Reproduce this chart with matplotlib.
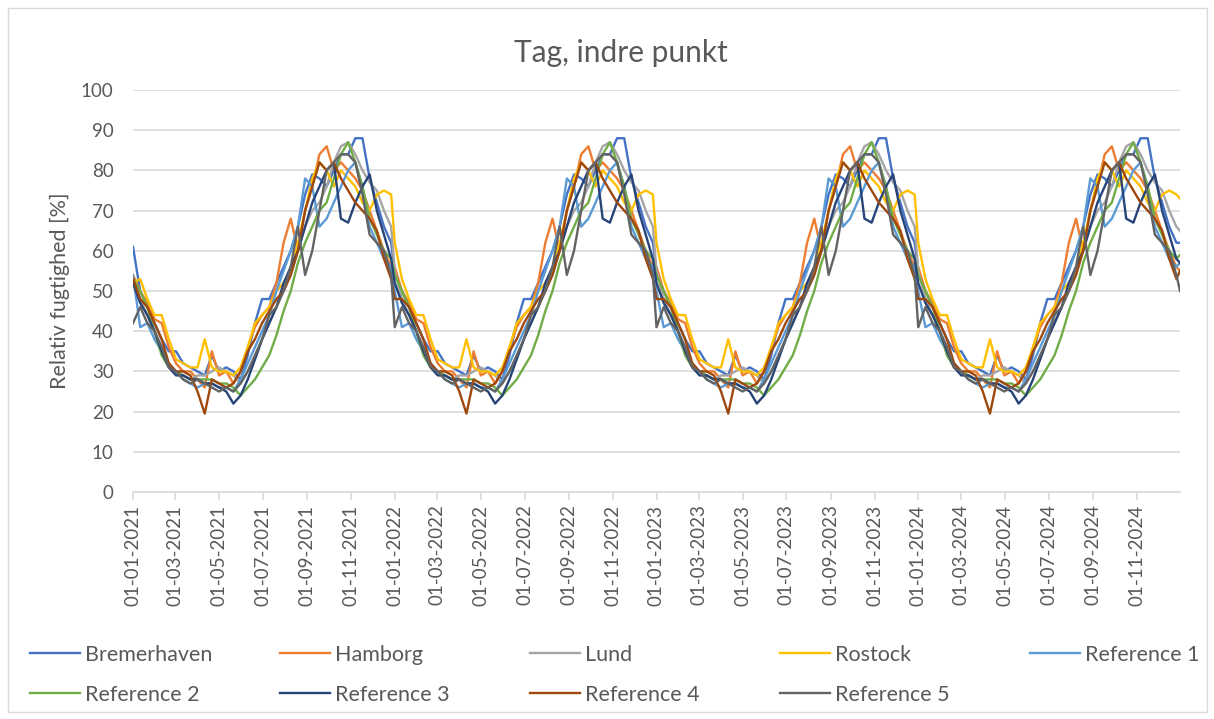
import datetime as dt

import numpy as np
import matplotlib
matplotlib.use('Agg')
import matplotlib.pyplot as plt
import matplotlib.dates as mdates
from matplotlib.lines import Line2D
from matplotlib.patches import Rectangle


# one simulated year, sampled every 10 days (day of year 0..360); it repeats for each year
sample_days = list(range(0, 361, 10))
years = [2021, 2022, 2023, 2024]

series_names = ['Bremerhaven', 'Hamborg', 'Lund', 'Rostock', 'Reference 1',
                'Reference 2', 'Reference 3', 'Reference 4', 'Reference 5']
series_colors = ['#4472C4', '#ED7D31', '#A5A5A5', '#FFC000', '#5B9BD5',
                 '#70AD47', '#264478', '#9E480E', '#636363']

bremerhaven = [55, 50, 46, 42, 38, 35, 35, 32, 31, 30, 29, 34, 30, 31, 30, 28, 34, 42, 48,
               48, 52, 56, 60, 66, 74, 79, 78, 76, 80, 84, 84, 88, 88, 78, 72, 66, 62]
hamborg = [56, 50, 47, 43, 42, 36, 32, 30, 30, 28, 26, 35, 29, 30, 27, 30, 36, 41, 44,
           46, 52, 62, 68, 60, 70, 76, 84, 86, 80, 82, 80, 78, 75, 70, 65, 60, 56]
lund = [55, 48, 44, 40, 36, 31, 30, 29, 28, 29, 29, 30, 31, 30, 29, 27, 30, 33, 38,
        42, 46, 50, 54, 60, 66, 70, 72, 76, 82, 86, 87, 84, 80, 77, 75, 70, 66]
rostock = [62, 53, 48, 44, 44, 38, 33, 32, 31, 31, 38, 31, 30, 30, 29, 31, 36, 42, 44,
           46, 50, 52, 55, 62, 70, 78, 82, 80, 76, 80, 78, 76, 72, 70, 74, 75, 74]
reference_1 = [50, 41, 42, 38, 35, 32, 30, 28, 27, 26, 27, 27, 26, 26, 25, 28, 32, 36, 40,
               44, 50, 55, 60, 66, 78, 76, 66, 68, 72, 76, 80, 82, 76, 66, 62, 58, 56]
reference_2 = [54, 50, 46, 40, 34, 31, 30, 29, 28, 28, 28, 28, 27, 27, 26, 24, 26, 28, 31,
               34, 39, 45, 50, 57, 62, 66, 70, 72, 78, 84, 87, 82, 76, 68, 64, 60, 58]
reference_3 = [52, 47, 44, 40, 35, 31, 29, 29, 28, 28, 27, 27, 26, 25, 22, 24, 28, 33, 38,
               42, 46, 52, 56, 60, 66, 72, 76, 80, 82, 68, 67, 72, 76, 79, 70, 64, 58]
reference_4 = [48, 48, 46, 42, 38, 32, 30, 30, 29, 25, 19.5, 28, 27, 26, 27, 30, 35, 38, 42,
               45, 48, 50, 54, 60, 70, 76, 82, 80, 82, 78, 75, 72, 70, 68, 65, 58, 53]
reference_5 = [41, 46, 42, 40, 36, 31, 30, 28, 27, 28, 27, 26, 25, 26, 25, 27, 30, 34, 38,
               44, 46, 50, 56, 66, 54, 60, 70, 80, 82, 84, 84, 82, 74, 64, 62, 60, 54]

# first value (01-01-2021) and last value (31-12-2024) of each series
start_2021 = [61, 54, 53, 52, 54, 53, 52, 53, 42]
end_2024 = [62, 55, 65, 73, 57, 59, 57, 55, 50]

y_ticks = list(range(0, 101, 10))

profiles = [bremerhaven, hamborg, lund, rostock, reference_1,
            reference_2, reference_3, reference_4, reference_5]


def build_series(profile, first, last):
    dates, values = [], []
    for year in years:
        for d, v in zip(sample_days, profile):
            dates.append(dt.date(year, 1, 1) + dt.timedelta(days=d))
            values.append(v)
    values[0] = first
    dates.append(dt.date(2024, 12, 31))
    values.append(last)
    return dates, values


plt.rcParams['font.family'] = ['Lato', 'DejaVu Sans']
text_color = '#595959'
grid_color = '#D9D9D9'

W, H = 1214, 719
fig = plt.figure(figsize=(W / 100, H / 100), dpi=100)
ax = fig.add_axes([133 / W, 1 - 492 / H, (1180 - 133) / W, (492 - 90) / H])

for profile, first, last, color in zip(profiles, start_2021, end_2024, series_colors):
    dates, values = build_series(profile, first, last)
    ax.plot(dates, values, color=color, lw=1.7, solid_joinstyle='round')

ax.set_xlim(dt.date(2021, 1, 1), dt.date(2024, 12, 31))
ax.set_ylim(0, 100)
ax.set_yticks(y_ticks)
ax.yaxis.grid(True, color=grid_color, lw=1.2)
ax.set_axisbelow(True)

ax.xaxis.set_major_locator(mdates.MonthLocator(bymonth=[1, 3, 5, 7, 9, 11]))
ax.xaxis.set_major_formatter(mdates.DateFormatter('%d-%m-%Y'))
for label in ax.get_xticklabels():
    label.set_rotation(90)

for side in ['top', 'right', 'left']:
    ax.spines[side].set_visible(False)
ax.spines['bottom'].set_color(grid_color)
ax.spines['bottom'].set_linewidth(1.2)
ax.tick_params(axis='x', colors=grid_color, labelcolor=text_color, labelsize=13.5,
               length=6, width=1.2, pad=3)
ax.tick_params(axis='y', length=0, labelcolor=text_color, labelsize=13.5, pad=14)

ax.set_ylabel('Relativ fugtighed [%]', color=text_color, fontsize=15.5, labelpad=8)
fig.text(621 / W, 1 - 53 / H, 'Tag, indre punkt', ha='center', va='center',
         color=text_color, fontsize=21.5)

# legend drawn by hand, two rows of equal-width columns like the Excel legend
legend_x = [30, 280, 530, 780, 1030, 30, 280, 530, 780]
legend_y = [653, 653, 653, 653, 653, 693, 693, 693, 693]
for name, color, lx, ly in zip(series_names, series_colors, legend_x, legend_y):
    fy = 1 - ly / H
    fig.add_artist(Line2D([lx / W, (lx + 50) / W], [fy, fy], color=color, lw=1.7))
    fig.text((lx + 55) / W, fy, name, ha='left', va='center_baseline',
             color=text_color, fontsize=15.5)

fig.add_artist(Rectangle((8 / W, 1 - 712 / H), 1199 / W, 704 / H, fill=False,
                         edgecolor=grid_color, lw=1, transform=fig.transFigure))

fig.savefig('out.png', dpi=100)
